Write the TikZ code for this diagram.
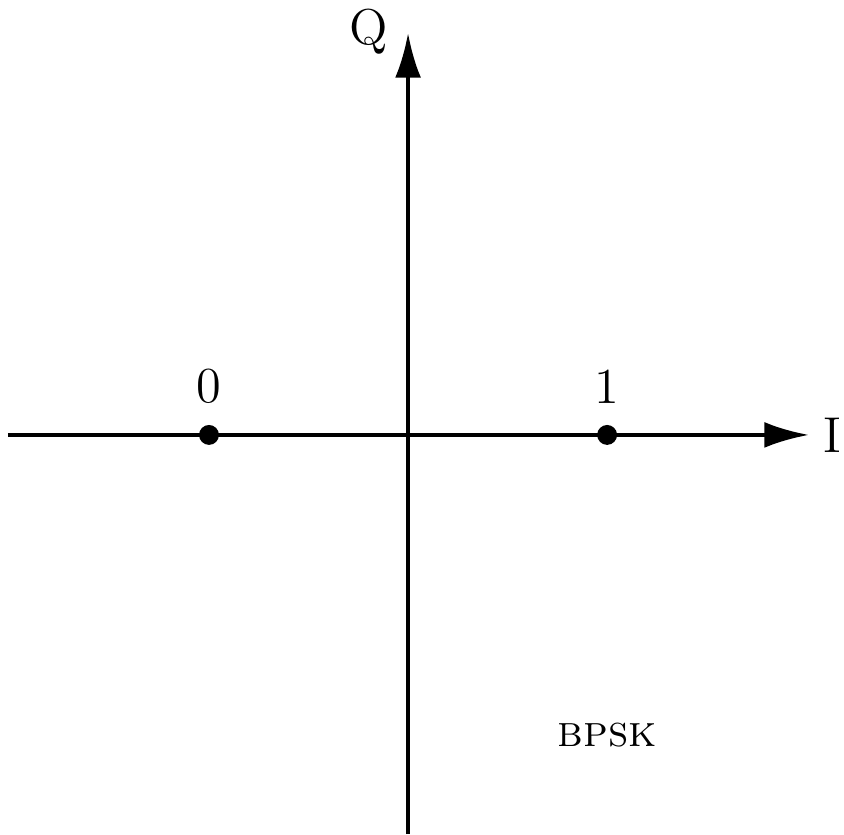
\documentclass[tikz,border=0pt]{standalone}
\usepackage{amsmath, amssymb}
\usetikzlibrary{arrows.meta,positioning}
\tikzstyle{axis} = [line width=1.2pt, -{Latex[length=4.5mm,width=2.6mm]}]
\tikzstyle{symbol} = [circle, fill=black, inner sep=0pt, minimum size=2mm]
\tikzstyle{lab} = [font=\Large, inner sep=1pt]

\begin{document}
\begin{tikzpicture}
    \useasboundingbox (-4.10,-4.01) rectangle (4.38,4.37);
    \coordinate (west) at (-4.02,0);
    \coordinate (east) at (4.03,0);
    \coordinate (south) at (0,-4.01);
    \coordinate (north) at (0,4.04);
    \draw[axis] (west) -- (east);
    \draw[axis] (south) -- (north);
    \node (I)[lab, right=0.1 of east]{I};
    \node (Q)[lab] at (-0.4,4.05){Q};
    \node (s0)[symbol] at (-2,0){};
    \node (s1)[symbol] at (2,0){};
    \node (b0)[lab, above=0.17 of s0]{0};
    \node (b1)[lab, above=0.17 of s1]{1};
    \node (mod)[font=\fontsize{12.7}{15}\selectfont] at (2,-3.02){\textsc{bpsk}};
  \end{tikzpicture}
\end{document}
